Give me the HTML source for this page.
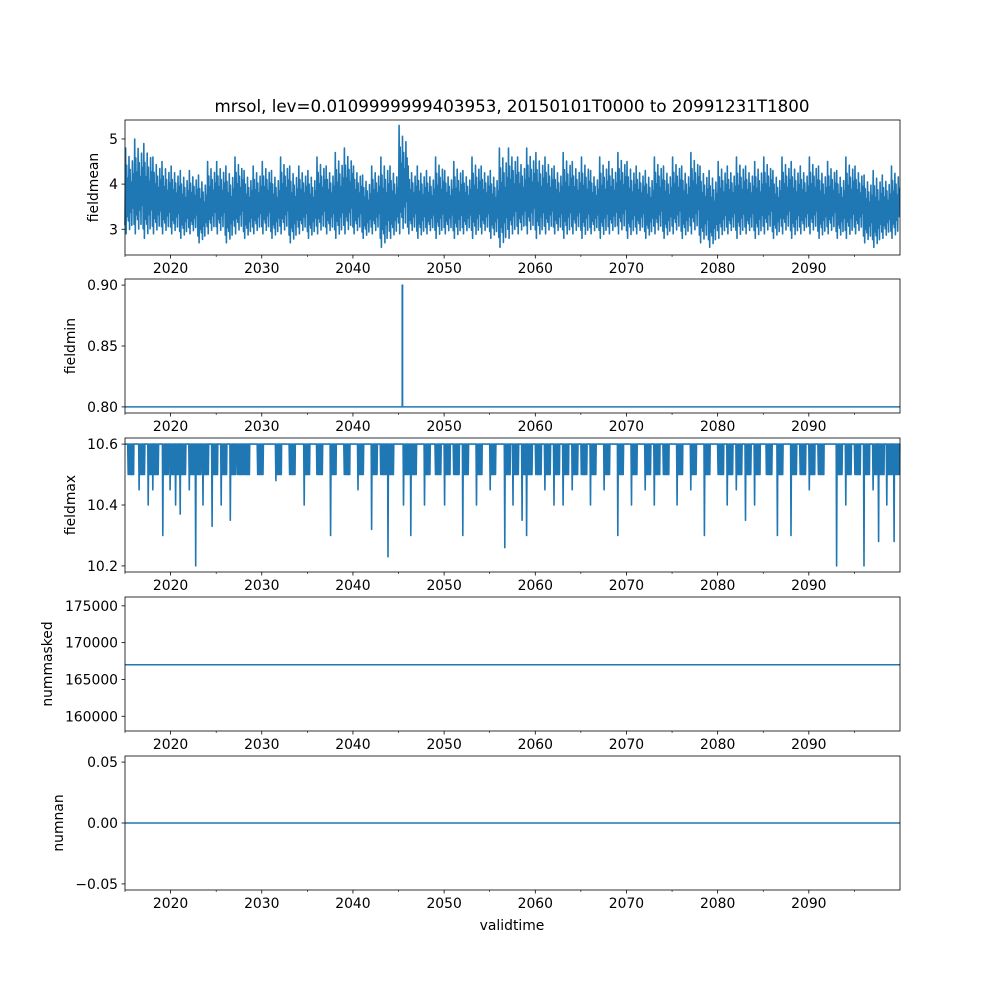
<!DOCTYPE html>
<html><head><meta charset="utf-8"><style>
body{margin:0;background:#fff;}
svg text{font-family:"DejaVu Sans","Liberation Sans",sans-serif;font-size:13.9px;fill:#000;}
</style></head><body>
<svg id="fig" width="1000" height="1000" xmlns="http://www.w3.org/2000/svg">
<rect width="1000" height="1000" fill="#fff"/>
<text x="512" y="112" text-anchor="middle" style="font-size:16.7px">mrsol, lev=0.0109999999403953, 20150101T0000 to 20991231T1800</text>
<text x="512" y="930" text-anchor="middle">validtime</text>
</svg>
<script>
const yearTicks=[2020,2030,2040,2050,2060,2070,2080,2090];
const meanHigh=[4.8,5.0,4.9,4.6,4.5,4.4,4.3,4.3,4.2,4.5,4.5,4.4,4.6,4.3,4.4,4.5,4.3,4.6,4.4,4.4,4.3,4.6,4.4,4.7,4.8,4.4,4.2,4.4,4.6,4.4,5.3,4.4,4.4,4.3,4.6,4.3,4.5,4.3,4.6,4.4,4.3,4.8,4.8,4.6,4.8,4.7,4.6,4.4,4.7,4.5,4.6,4.3,4.6,4.5,4.7,4.5,4.4,4.3,4.6,4.4,4.6,4.4,4.7,4.4,4.3,4.5,4.4,4.6,4.4,4.5,4.6,4.3,4.6,4.5,4.4,4.6,4.4,4.5,4.3,4.6,4.4,4.2,4.3,4.2,4.4];
const meanLow=[2.9,2.9,2.8,2.9,2.9,2.9,2.8,2.9,2.7,2.9,2.9,2.7,2.9,2.8,2.9,2.9,2.8,2.9,2.7,2.9,2.8,2.9,2.9,2.8,2.9,2.9,2.8,2.9,2.6,2.8,2.9,2.9,2.8,2.9,2.8,2.9,2.8,2.9,2.8,2.9,2.8,2.6,2.8,2.9,2.9,2.8,2.9,2.9,2.8,2.9,2.8,2.9,2.8,2.9,2.9,2.8,2.9,2.8,2.9,2.8,2.9,2.8,2.9,2.7,2.6,2.8,2.9,2.8,2.9,2.8,2.9,2.8,2.9,2.8,2.9,2.9,2.8,2.9,2.8,2.8,2.9,2.7,2.6,2.8,2.8];
const minSpikeYear=[2045.4];
const minSpikeValue=[0.9];
const minBase=0.8;
const maxDipYear=[2015.3,2016.5,2017.5,2018,2019.1,2019.9,2020.5,2021,2022,2022.7,2023.5,2024.5,2025.5,2026.5,2027.3,2028,2029.5,2031.5,2033,2034.6,2036,2037.5,2039,2040.5,2042,2043,2043.8,2045.5,2046.3,2047.8,2049,2050,2051,2052,2053.5,2055,2056.6,2057.5,2058.5,2059,2060,2061,2062,2063,2064,2065,2066,2067.5,2069,2070.5,2072,2073,2074,2075.5,2077,2078.5,2080,2081,2082,2083,2084,2085.3,2086.5,2088,2089,2090,2091,2093,2094,2095,2096,2097,2097.6,2098.5,2099.3];
const maxDipValue=[10.5,10.45,10.4,10.45,10.3,10.45,10.4,10.37,10.45,10.2,10.4,10.33,10.4,10.35,10.5,10.5,10.5,10.48,10.5,10.4,10.5,10.3,10.5,10.45,10.32,10.5,10.23,10.4,10.3,10.4,10.5,10.4,10.5,10.3,10.4,10.45,10.26,10.4,10.35,10.3,10.5,10.45,10.4,10.4,10.45,10.5,10.4,10.45,10.3,10.4,10.45,10.4,10.5,10.4,10.45,10.3,10.5,10.4,10.45,10.35,10.4,10.5,10.3,10.3,10.5,10.45,10.5,10.2,10.4,10.5,10.2,10.45,10.28,10.4,10.28];
const maxBase=10.6;
const maxBand=10.5;
const maskedValue=[167000];
const nanValue=[0];

const NS="http://www.w3.org/2000/svg";
const svg=document.getElementById('fig');
const X0=125,X1=900,T0=2015,T1=2100;
const xs=t=>X0+(t-T0)/(T1-T0)*(X1-X0);
function el(tag,attrs,parent){const e=document.createElementNS(NS,tag);for(const k in attrs)e.setAttribute(k,attrs[k]);(parent||svg).appendChild(e);return e;}
function panel(name,top,bot,ymin,ymax,yt,ylabels,label,labelX){
  const g=el('g',{});
  
  
  const ys=v=>bot-(v-ymin)/(ymax-ymin)*(bot-top);
  yt.forEach((v,i)=>{const y=ys(v);el('line',{x1:X0-3.5,x2:X0,y1:y,y2:y,stroke:'#000','stroke-width':0.8},g);
    const t=el('text',{x:X0-7,y:y+5,'text-anchor':'end'},g);t.textContent=ylabels[i];
    
    });
  yearTicks.forEach(yr=>{const x=xs(yr);el('line',{x1:x,x2:x,y1:bot,y2:bot+3.5,stroke:'#000','stroke-width':0.8},g);
    const t=el('text',{x:x,y:bot+18,'text-anchor':'middle'},g);t.textContent=yr;
    
    });
  for(let yr=2015;yr<=2100;yr+=10){const x=xs(yr);el('line',{x1:x,x2:x,y1:bot,y2:bot+2,stroke:'#000','stroke-width':0.6},g);}
  const lt=el('text',{x:labelX,y:(top+bot)/2,'text-anchor':'middle',transform:`rotate(-90 ${labelX} ${(top+bot)/2})`},g);lt.textContent=label;
  
  
  return {g,ys,top,bot};
}
function frame(p){el('rect',{x:X0,y:p.top,width:X1-X0,height:p.bot-p.top,fill:'none',stroke:'#000','stroke-width':0.8},p.g);}
function line(p,pts,name,w){const l=el('polyline',{points:pts.map(q=>q[0].toFixed(1)+','+q[1].toFixed(1)).join(' '),fill:'none',stroke:'#1f77b4','stroke-width':w||1.5,'stroke-linejoin':'round'},p.g);
  
  }

// Panel 1
const hiF=[1,0.8,0.65,0.9,0.75,0.6,0.85,0.7];
const loF=[0.1,0,0.2,0.15,0.05,0.25,0.1,0.3];
let p=panel('fieldmean',120,255,2.43,5.42,[3,4,5],['3','4','5'],'fieldmean',98);
let pts=[];
meanHigh.forEach((h,i)=>{const lo=meanLow[i],yr=T0+i,r=h-lo;
  for(let k=0;k<8;k++){pts.push([xs(yr+k/8),p.ys(lo+r*loF[k])]);pts.push([xs(yr+k/8+1/16),p.ys(lo+r*hiF[k])]);}});
line(p,pts,'fieldmean-series',1.6);frame(p);

// Panel 2
p=panel('fieldmin',279,413,0.795,0.905,[0.80,0.85,0.90],['0.80','0.85','0.90'],'fieldmin',75);
pts=[[xs(T0),p.ys(minBase)]];
minSpikeYear.forEach((yr,i)=>{pts.push([xs(yr),p.ys(minBase)],[xs(yr),p.ys(minSpikeValue[i])],[xs(yr+0.05),p.ys(minSpikeValue[i])],[xs(yr+0.05),p.ys(minBase)]);});
pts.push([xs(T1),p.ys(minBase)]);
line(p,pts,'fieldmin-series');frame(p);

// Panel 3
p=panel('fieldmax',438,572,10.18,10.62,[10.2,10.4,10.6],['10.2','10.4','10.6'],'fieldmax',75);
pts=[[xs(T0),p.ys(maxBase)]];
maxDipYear.forEach((yr,i)=>{
  pts.push([xs(yr),p.ys(maxBase)],[xs(yr+0.05),p.ys(maxDipValue[i])],[xs(yr+0.1),p.ys(maxBase)]);
  for(let k=1;k<=6;k++){pts.push([xs(yr+0.1+k*0.09),p.ys(maxBand)],[xs(yr+0.14+k*0.09),p.ys(maxBase)]);}
});
pts.push([xs(T1),p.ys(maxBase)]);
line(p,pts,'fieldmax-series',1.6);frame(p);

// Panel 4
p=panel('nummasked',597,731,158000,176200,[160000,165000,170000,175000],['160000','165000','170000','175000'],'nummasked',52);
line(p,[[xs(T0),p.ys(maskedValue[0])],[xs(T1),p.ys(maskedValue[0])]],'nummasked-series');frame(p);

// Panel 5
p=panel('numnan',756,890,-0.055,0.055,[-0.05,0,0.05],['\u22120.05','0.00','0.05'],'numnan',63);
line(p,[[xs(T0),p.ys(nanValue[0])],[xs(T1),p.ys(nanValue[0])]],'numnan-series');frame(p);
</script>
</body></html>
